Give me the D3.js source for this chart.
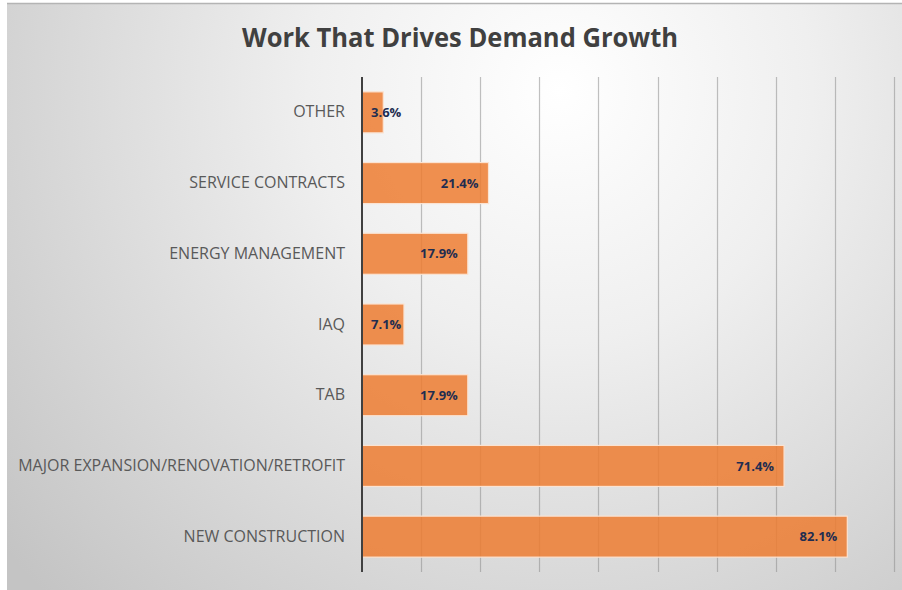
<!DOCTYPE html>
<html>
<head>
<meta charset="utf-8">
<script src="https://cdn.jsdelivr.net/npm/d3@7"></script>
<style>
  html, body { margin: 0; padding: 0; background: #ffffff; }
  svg { display: block; }
</style>
</head>
<body>
<div id="chart"></div>
<script>
// Survey results: share of respondents naming each type of work
const categories = [
  "OTHER",
  "SERVICE CONTRACTS",
  "ENERGY MANAGEMENT",
  "IAQ",
  "TAB",
  "MAJOR EXPANSION/RENOVATION/RETROFIT",
  "NEW CONSTRUCTION"
];
const values = [3.6, 21.4, 17.9, 7.1, 17.9, 71.4, 82.1];
const gridTicks = [0, 10, 20, 30, 40, 50, 60, 70, 80, 90];
const titleText = "Work That Drives Demand Growth";

const W = 902, H = 590;
const frame = { x: 7, y: 3, w: W - 7, h: H - 3 };
const plot = { left: 362, right: 894, top: 77, bottom: 572 };

const svg = d3.select("#chart").append("svg")
  .attr("width", W).attr("height", H);

const defs = svg.append("defs");
const grad = defs.append("radialGradient")
  .attr("id", "bg")
  .attr("gradientUnits", "userSpaceOnUse")
  .attr("cx", 560).attr("cy", 90).attr("r", 720)
  .attr("fx", 560).attr("fy", 90);
grad.append("stop").attr("offset", "0%").attr("stop-color", "#ffffff");
grad.append("stop").attr("offset", "35%").attr("stop-color", "#efefef");
grad.append("stop").attr("offset", "100%").attr("stop-color", "#c4c4c4");

// chart area background
svg.append("rect")
  .attr("x", frame.x).attr("y", frame.y)
  .attr("width", frame.w).attr("height", frame.h)
  .attr("fill", "url(#bg)");
svg.append("line")
  .attr("x1", frame.x).attr("x2", W)
  .attr("y1", frame.y + 0.5).attr("y2", frame.y + 0.5)
  .attr("stroke", "#b4b4b4").attr("stroke-width", 1.5);

// title
const title = svg.append("text")
  .attr("x", 460).attr("y", 47)
  .attr("text-anchor", "middle")
  .attr("font-family", "'Open Sans', sans-serif")
  .attr("font-weight", 700)
  .attr("font-size", 27)
  .attr("fill", "#404040")
  .text(titleText);
const tLen = title.node().getComputedTextLength();
if (Math.abs(tLen - 436) > 4) {
  title.attr("textLength", 436).attr("lengthAdjust", "spacingAndGlyphs");
}

const x = d3.scaleLinear()
  .domain([0, 90])
  .range([plot.left, plot.right]);

const y = d3.scaleBand()
  .domain(categories)
  .range([plot.top, plot.bottom])
  .paddingInner(0.42)
  .paddingOuter(0.21);

// vertical gridlines
svg.append("g")
  .selectAll("line")
  .data(gridTicks.slice(1))
  .join("line")
  .attr("x1", d => Math.round(x(d)) + 0.5)
  .attr("x2", d => Math.round(x(d)) + 0.5)
  .attr("y1", plot.top).attr("y2", plot.bottom)
  .attr("stroke", "#8c8c8c")
  .attr("stroke-opacity", 0.55)
  .attr("stroke-width", 1.2);

// bars
svg.append("g")
  .selectAll("rect")
  .data(categories)
  .join("rect")
  .attr("x", x(0))
  .attr("y", d => y(d))
  .attr("width", (d, i) => x(values[i]) - x(0))
  .attr("height", y.bandwidth())
  .attr("fill", "#ed7d31")
  .attr("fill-opacity", 0.85)
  .attr("stroke", "#fbe3d2")
  .attr("stroke-width", 1.2);

// category axis
const yAxis = svg.append("g")
  .attr("transform", `translate(${plot.left},0)`)
  .call(d3.axisLeft(y).tickSize(0).tickPadding(17));
yAxis.select(".domain").remove();
yAxis.selectAll("text")
  .attr("font-family", "'Open Sans', sans-serif")
  .attr("font-size", 16)
  .attr("fill", "#595959");
svg.append("line")
  .attr("x1", plot.left).attr("x2", plot.left)
  .attr("y1", plot.top).attr("y2", plot.bottom)
  .attr("stroke", "#404040").attr("stroke-width", 2);

// value labels at the inside end of each bar
svg.append("g")
  .selectAll("text")
  .data(categories)
  .join("text")
  .attr("y", d => y(d) + y.bandwidth() / 2)
  .attr("dy", "0.36em")
  .attr("text-anchor", "end")
  .attr("font-family", "'Open Sans', sans-serif")
  .attr("font-weight", 700)
  .attr("font-size", 13)
  .attr("fill", "#1f2d50")
  .text((d, i) => values[i].toFixed(1) + "%")
  .each(function(d, i) {
    const w = this.getComputedTextLength();
    const endX = Math.max(x(values[i]) - 10, x(0) + 9 + w);
    d3.select(this).attr("x", endX);
  });
</script>
</body>
</html>
